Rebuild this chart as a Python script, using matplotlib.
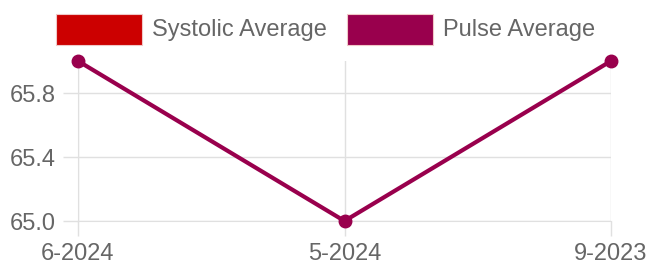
import matplotlib.pyplot as plt
from matplotlib.patches import Rectangle

months = ["6-2024", "5-2024", "9-2023"]
pulse_avg = [66.0, 65.0, 66.0]
legend_labels = ["Systolic Average", "Pulse Average"]
legend_colors = ["#cc0000", "#99004d"]
y_ticks = [65.0, 65.4, 65.8]

plt.rcParams["font.family"] = ["Liberation Sans", "DejaVu Sans"]

W, H = 650, 269
fig = plt.figure(figsize=(6.5, 2.69), dpi=100)
ax = fig.add_axes([78 / W, 1 - 221 / H, (611 - 78) / W, 160 / H])

x = list(range(len(months)))
ax.plot(x, pulse_avg, color=legend_colors[1], lw=3, marker="o", ms=9,
        clip_on=False, zorder=3)

ax.set_xlim(0, len(months) - 1)
ax.set_ylim(65.0, 66.0)
ax.set_xticks(x)
ax.set_xticklabels(months)
ax.set_yticks(y_ticks)
ax.set_yticklabels([f"{v:.1f}" for v in y_ticks])

grid_c = "#e0e0e0"
ax.grid(True, color=grid_c, lw=1)
ax.set_axisbelow(True)
for s in ["top", "right"]:
    ax.spines[s].set_visible(False)
for s in ["left", "bottom"]:
    ax.spines[s].set_color(grid_c)
ax.tick_params(axis="both", colors=grid_c, labelcolor="#666666",
               labelsize=17, length=11, width=1)
ax.tick_params(axis="y", pad=5)
ax.tick_params(axis="x", pad=5)

# legend drawn across the top
box_x = [56, 347]
text_x = [152, 443]
for bx, tx, lab, col in zip(box_x, text_x, legend_labels, legend_colors):
    fig.patches.append(Rectangle((bx / W, 1 - 45 / H), 86 / W, 31 / H,
                                 transform=fig.transFigure, facecolor=col,
                                 edgecolor="#f0c8c8", lw=0.8))
    fig.text(tx / W, 1 - 36 / H, lab, color="#666666", fontsize=17,
             va="baseline", ha="left")

fig.savefig("out.png", dpi=100)
